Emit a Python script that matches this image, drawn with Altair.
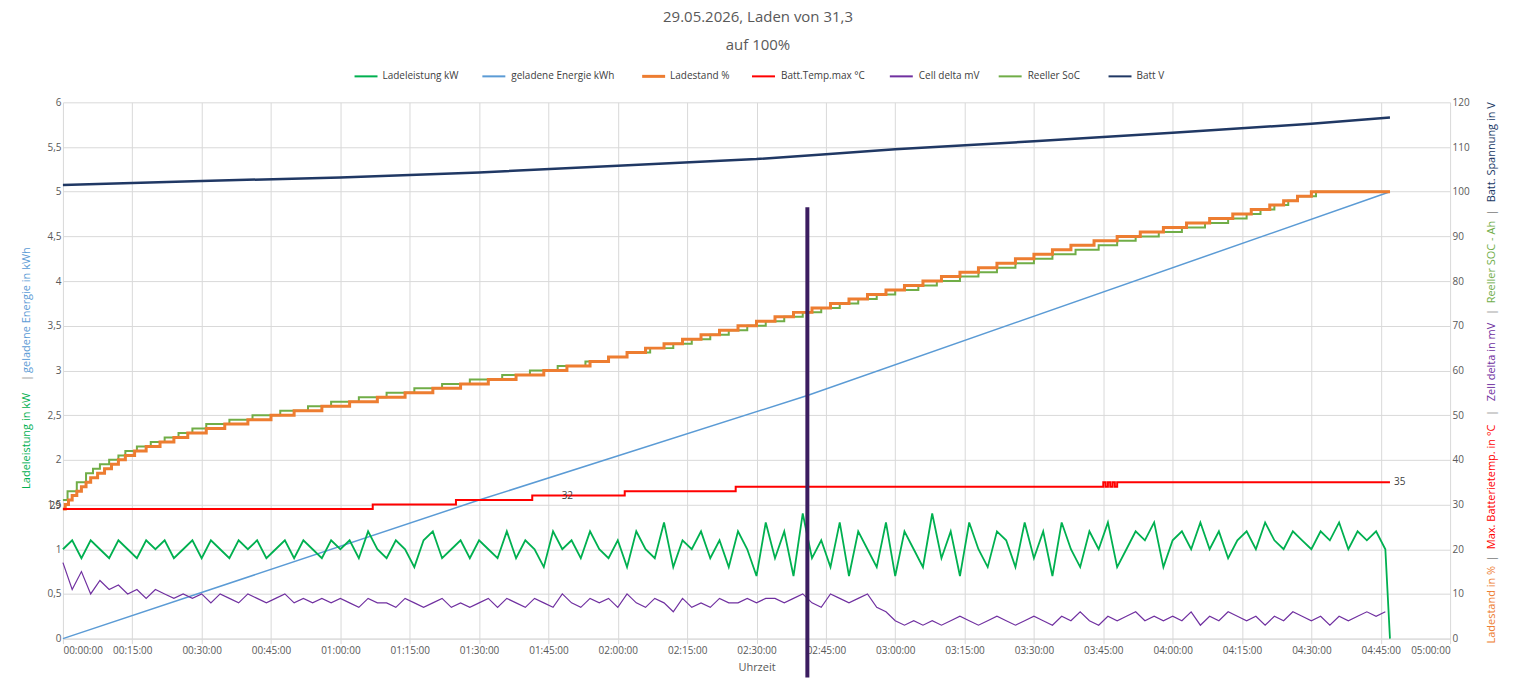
import pandas as pd
import altair as alt

FONT = "Open Sans"

# Ladestand %: minute at which each percent is reached
lade_pct = list(range(29, 101))
lade_min = [0, 0.5, 1.2, 2, 3, 4, 5, 6, 7.5, 9, 10.5, 12, 13.5, 15.5, 18, 21, 24, 27, 31, 35,
            40, 45, 50, 56, 62, 68, 74, 80, 86, 92, 98, 104, 109, 114, 118, 122, 126, 130, 134, 138,
            142, 146, 150, 154, 158, 162, 166, 170, 174, 178, 182, 186, 190, 194, 198, 202, 206, 210, 214, 218,
            223, 228, 233, 238, 243, 248, 253, 257, 261, 264, 267, 270]

# Reeller SoC steps
soc_val = [31, 33, 35] + list(range(37, 101))
soc_min = [0, 1, 3, 5, 6.5, 8, 10, 12, 13.5, 16, 19, 22, 25, 28, 31, 36, 41, 47, 53, 58,
           64, 70, 76, 82, 88, 95, 101, 107, 113, 118, 122, 127, 132, 136, 140, 144, 148, 152, 156, 160,
           164, 168, 172, 176, 180, 185, 189, 194, 198, 202, 206, 210, 214, 219, 224, 228, 232, 237, 242, 247,
           252, 256, 259, 262, 265, 267, 271]

# Batt.Temp.max
temp_min = [0, 67, 85, 101.5, 121.5, 145.5, 225, 225.5, 226, 226.5, 227, 227.5, 228, 287]
temp_val = [29, 30, 31, 32, 33, 34, 35, 34, 35, 34, 35, 34, 35, 35]

# Batt V
volt_min = [0, 30, 60, 90, 120, 150, 165, 180, 210, 240, 270, 287]
volt_val = [101.5, 102.4, 103.2, 104.3, 105.8, 107.3, 108.4, 109.5, 111.3, 113.2, 115.2, 116.6]

# geladene Energie
energy_min = [0, 90, 161, 287]
energy_val = [0, 1.55, 2.72, 5.0]

# Ladeleistung kW, sampled every 2 min
power_val = [1.0, 1.1, 0.9, 1.1, 1.0, 0.9, 1.1, 1.0, 0.9, 1.1, 1.0, 1.1, 0.9, 1.0, 1.1,
             0.9, 1.1, 1.0, 0.9, 1.1, 1.0, 1.1, 0.9, 1.0, 1.1, 0.9, 1.1, 1.0, 0.9, 1.1,
             1.0, 1.1, 0.9, 1.2, 1.0, 0.9, 1.1, 1.0, 0.8, 1.1, 1.2, 0.9, 1.0, 1.1, 0.9,
             1.1, 1.0, 0.9, 1.2, 0.9, 1.1, 1.0, 0.8, 1.2, 1.0, 1.1, 0.9, 1.2, 1.0, 0.9,
             1.1, 0.8, 1.2, 1.0, 0.9, 1.3, 0.8, 1.1, 1.0, 1.2, 0.9, 1.1, 0.8, 1.2, 1.0,
             0.7, 1.3, 0.9, 1.2, 0.7, 1.4, 0.9, 1.1, 0.8, 1.3, 0.7, 1.2, 1.0, 0.8, 1.3,
             0.7, 1.2, 1.0, 0.8, 1.4, 0.9, 1.2, 0.7, 1.3, 1.0, 0.8, 1.2, 1.1, 0.8, 1.3,
             0.9, 1.2, 0.7, 1.3, 1.0, 0.8, 1.2, 1.0, 1.3, 0.8, 1.0, 1.2, 1.1, 1.3, 0.8,
             1.1, 1.2, 1.0, 1.3, 1.0, 1.2, 0.9, 1.1, 1.2, 1.0, 1.3, 1.1, 1.0, 1.2, 1.1,
             1.0, 1.2, 1.1, 1.3, 1.0, 1.2, 1.1, 1.2, 1.0, 0.0]

# Cell delta mV, sampled every 2 min
delta_val = [17, 11, 15, 10, 13, 11, 12, 10, 11, 9, 11, 10, 9, 10, 9,
             10, 8, 10, 9, 8, 10, 9, 8, 9, 10, 8, 9, 8, 9, 8,
             9, 8, 7, 9, 8, 8, 7, 9, 8, 7, 8, 9, 7, 8, 7,
             8, 9, 7, 9, 8, 7, 9, 8, 7, 10, 8, 7, 9, 8, 9,
             7, 10, 8, 7, 9, 8, 6, 9, 7, 8, 7, 9, 8, 8, 9,
             8, 9, 9, 8, 9, 10, 8, 7, 10, 9, 8, 9, 10, 7, 6,
             4, 3, 4, 3, 4, 3, 4, 5, 4, 3, 4, 5, 4, 3, 4,
             5, 4, 3, 5, 4, 6, 4, 3, 5, 4, 5, 6, 4, 5, 4,
             5, 4, 6, 3, 5, 4, 6, 5, 4, 5, 3, 5, 4, 6, 5,
             4, 5, 3, 5, 4, 5, 6, 5, 6]

marker_min = 161

sample_min = [2 * i for i in range(144)]


def sec(mins):
    return [m * 60 for m in mins]


lade_df = pd.DataFrame({"t": sec(lade_min + [287]), "v": lade_pct + [100]})
soc_df = pd.DataFrame({"t": sec(soc_min + [287]), "v": soc_val + [100]})
temp_df = pd.DataFrame({"t": sec(temp_min), "v": temp_val})
volt_df = pd.DataFrame({"t": sec(volt_min), "v": volt_val})
energy_df = pd.DataFrame({"t": sec(energy_min), "v": energy_val})
power_df = pd.DataFrame({"t": sec(sample_min[:143] + [286, 287]), "v": power_val})
delta_df = pd.DataFrame({"t": sec(sample_min), "v": delta_val})
temp_lbl_first = pd.DataFrame({"t": sec([0]), "v": [29], "txt": ["29"]})
temp_lbl = pd.DataFrame({"t": sec([107, 287]), "v": [32, 35], "txt": ["32", "35"]})
marker_df = pd.DataFrame({"t": sec([marker_min])})
dummy = pd.DataFrame({"a": [0]})

xscale = alt.Scale(domain=[0, 18000], nice=False)
xaxis = alt.Axis(values=list(range(0, 18001, 900)), labelExpr="utcFormat(datum.value*1000,'%H:%M:%S')",
                 title="Uhrzeit", grid=True)
lscale = alt.Scale(domain=[0, 6], nice=False)
rscale = alt.Scale(domain=[0, 120], nice=False)
laxis = alt.Axis(values=[i * 0.5 for i in range(13)], title=None, grid=True,
                 labelExpr="replace(format(datum.value,''),'.',',')")
raxis = alt.Axis(values=list(range(0, 121, 10)), title=None, grid=False, orient="right")


def line(df, color, width, scale, axis, interp="linear"):
    return alt.Chart(df).mark_line(color=color, strokeWidth=width, interpolate=interp).encode(
        x=alt.X("t:Q", scale=xscale, axis=xaxis),
        y=alt.Y("v:Q", scale=scale, axis=axis)
    )


def label(text, x, y, color, angle=0, align="center", size=11):
    return alt.Chart(dummy).mark_text(text=text, angle=angle, align=align, baseline="middle", color=color,
                                      fontSize=size, font=FONT).encode(x=alt.value(x), y=alt.value(y))


def swatch(x, color, width):
    return alt.Chart(dummy).mark_rule(color=color, strokeWidth=width).encode(
        x=alt.value(x), x2=alt.value(x + 23), y=alt.value(-26))


left = alt.layer(
    line(energy_df, "#5B9BD5", 1.5, lscale, laxis),
    line(power_df, "#00B050", 1.8, lscale, laxis),
)

red_lbl = alt.Chart(temp_lbl).mark_text(color="#404040", fontSize=10, font=FONT, align="left", dx=4).encode(
    x=alt.X("t:Q", scale=xscale), y=alt.Y("v:Q", scale=rscale, axis=raxis), text="txt:N")
red_lbl_first = alt.Chart(temp_lbl_first).mark_text(color="#404040", fontSize=10, font=FONT, align="right", dx=-2,
                                                    dy=-3).encode(
    x=alt.X("t:Q", scale=xscale), y=alt.Y("v:Q", scale=rscale, axis=raxis), text="txt:N")

right = alt.layer(
    line(delta_df, "#7030A0", 1.2, rscale, raxis),
    line(volt_df, "#203864", 2.5, rscale, raxis),
    line(soc_df, "#70AD47", 2, rscale, raxis, "step-after"),
    line(lade_df, "#ED7D31", 3, rscale, raxis, "step-after"),
    line(temp_df, "#FF0000", 2, rscale, raxis, "step-after"),
    red_lbl,
    red_lbl_first,
)

marker = alt.Chart(marker_df).mark_rule(color="#3B1D60", strokeWidth=4).encode(
    x=alt.X("t:Q", scale=xscale), y=alt.value(105), y2=alt.value(576))

annotations = [
    label("29.05.2026, Laden von 31,3", 696, -85, "#595959", size=15),
    label("auf 100%", 696, -57, "#595959", size=15),
    swatch(292, "#00B050", 2), label("Ladeleistung kW", 320, -26, "#404040", align="left", size=10),
    swatch(420, "#5B9BD5", 2), label("geladene Energie kWh", 449, -26, "#404040", align="left", size=10),
    swatch(580, "#ED7D31", 3), label("Ladestand %", 608, -26, "#404040", align="left", size=10),
    swatch(690, "#FF0000", 2), label("Batt.Temp.max °C", 719, -26, "#404040", align="left", size=10),
    swatch(828, "#7030A0", 2), label("Cell delta mV", 857, -26, "#404040", align="left", size=10),
    swatch(937, "#70AD47", 2), label("Reeller SoC", 966, -26, "#404040", align="left", size=10),
    swatch(1047, "#203864", 2), label("Batt V", 1075, -26, "#404040", align="left", size=10),
    label("Ladeleistung in kW", -36, 339, "#00B050", angle=270),
    label("|", -36, 276, "#404040", angle=270),
    label("geladene Energie in kWh", -36, 208, "#5B9BD5", angle=270),
    label("Ladestand in %", 1431, 503, "#ED7D31", angle=270),
    label("|", 1431, 457, "#404040", angle=270),
    label("Max. Batterietemp. in °C", 1431, 385, "#FF0000", angle=270),
    label("|", 1431, 311, "#404040", angle=270),
    label("Zell delta in mV", 1431, 260, "#7030A0", angle=270),
    label("|", 1431, 210, "#404040", angle=270),
    label("Reeller SOC - Ah", 1431, 160, "#70AD47", angle=270),
    label("|", 1431, 110, "#404040", angle=270),
    label("Batt. Spannung in V", 1431, 50, "#203864", angle=270),
]

chart = alt.layer(left, right, marker, *annotations).resolve_scale(y="independent").properties(
    width=1389, height=537,
    autosize=alt.AutoSizeParams(type="none"),
    padding={"left": 55, "top": 94, "right": 60, "bottom": 50},
    background="white",
).configure_view(stroke="#d9d9d9", strokeWidth=0
).configure_axis(labelFont=FONT, titleFont=FONT, labelColor="#595959", titleColor="#595959",
                 labelFontSize=10, titleFontSize=11, titleFontWeight="normal",
                 gridColor="#d9d9d9", domain=False, ticks=False
).configure_axisX(domain=True, domainColor="#d9d9d9", ticks=True, tickColor="#d9d9d9", titlePadding=6)

chart.save("out.html", embed_options={"renderer": "svg", "actions": False})
